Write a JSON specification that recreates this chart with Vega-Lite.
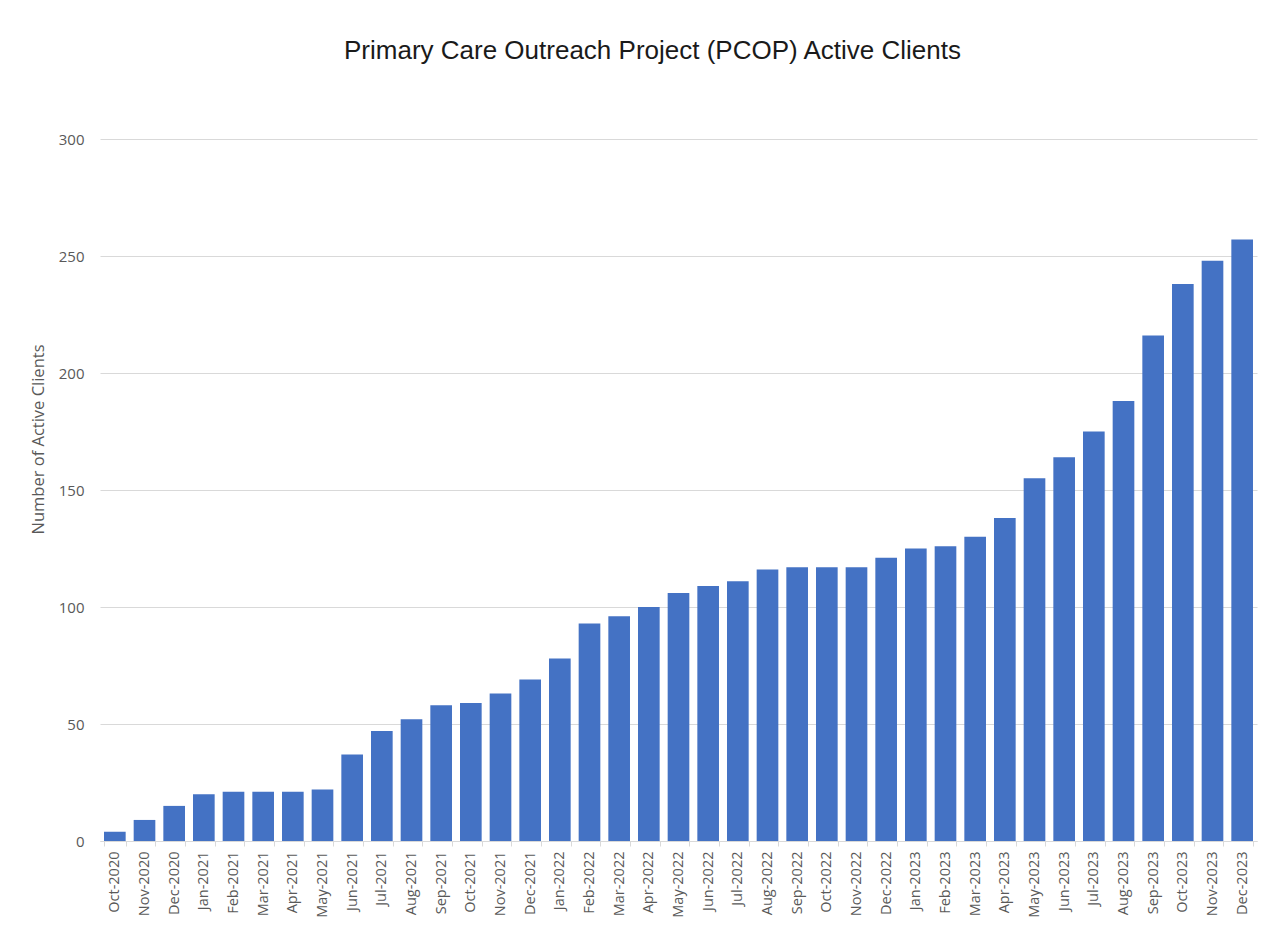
{
  "$schema": "https://vega.github.io/schema/vega-lite/v6.json",
  "width": 1157,
  "height": 702,
  "autosize": {"type": "none"},
  "padding": {"left": 100, "top": 139, "right": 9, "bottom": 85},
  "background": "white",
  "title": {
    "text": "Primary Care Outreach Project (PCOP) Active Clients",
    "font": "Liberation Sans",
    "fontSize": 26,
    "fontWeight": "normal",
    "color": "#1a1a1a",
    "anchor": "middle",
    "offset": 68,
    "dx": -26
  },
  "data": {
    "values": [
      {"month": "Oct-2020", "clients": 4},
      {"month": "Nov-2020", "clients": 9},
      {"month": "Dec-2020", "clients": 15},
      {"month": "Jan-2021", "clients": 20},
      {"month": "Feb-2021", "clients": 21},
      {"month": "Mar-2021", "clients": 21},
      {"month": "Apr-2021", "clients": 21},
      {"month": "May-2021", "clients": 22},
      {"month": "Jun-2021", "clients": 37},
      {"month": "Jul-2021", "clients": 47},
      {"month": "Aug-2021", "clients": 52},
      {"month": "Sep-2021", "clients": 58},
      {"month": "Oct-2021", "clients": 59},
      {"month": "Nov-2021", "clients": 63},
      {"month": "Dec-2021", "clients": 69},
      {"month": "Jan-2022", "clients": 78},
      {"month": "Feb-2022", "clients": 93},
      {"month": "Mar-2022", "clients": 96},
      {"month": "Apr-2022", "clients": 100},
      {"month": "May-2022", "clients": 106},
      {"month": "Jun-2022", "clients": 109},
      {"month": "Jul-2022", "clients": 111},
      {"month": "Aug-2022", "clients": 116},
      {"month": "Sep-2022", "clients": 117},
      {"month": "Oct-2022", "clients": 117},
      {"month": "Nov-2022", "clients": 117},
      {"month": "Dec-2022", "clients": 121},
      {"month": "Jan-2023", "clients": 125},
      {"month": "Feb-2023", "clients": 126},
      {"month": "Mar-2023", "clients": 130},
      {"month": "Apr-2023", "clients": 138},
      {"month": "May-2023", "clients": 155},
      {"month": "Jun-2023", "clients": 164},
      {"month": "Jul-2023", "clients": 175},
      {"month": "Aug-2023", "clients": 188},
      {"month": "Sep-2023", "clients": 216},
      {"month": "Oct-2023", "clients": 238},
      {"month": "Nov-2023", "clients": 248},
      {"month": "Dec-2023", "clients": 257}
    ]
  },
  "mark": {"type": "bar", "color": "#4472C4"},
  "encoding": {
    "x": {
      "field": "month",
      "type": "nominal",
      "sort": null,
      "scale": {"paddingInner": 0.27, "paddingOuter": 0.135},
      "axis": {
        "title": null,
        "labelAngle": -90,
        "labelFont": "Open Sans",
        "labelFontSize": 14.5,
        "labelColor": "#595959",
        "labelPadding": 5,
        "domainColor": "#d9d9d9",
        "domainWidth": 1,
        "ticks": true,
        "tickBand": "extent",
        "tickColor": "#d9d9d9",
        "tickSize": 5,
        "grid": false
      }
    },
    "y": {
      "field": "clients",
      "type": "quantitative",
      "scale": {"domain": [0, 300], "nice": false},
      "axis": {
        "title": "Number of Active Clients",
        "titleFont": "Open Sans",
        "titleFontSize": 16.5,
        "titleFontWeight": "normal",
        "titleColor": "#595959",
        "titlePadding": 12,
        "titleY": 300,
        "values": [0, 50, 100, 150, 200, 250, 300],
        "labelFont": "Open Sans",
        "labelFontSize": 15,
        "labelColor": "#595959",
        "labelPadding": 16,
        "domain": false,
        "ticks": false,
        "grid": true,
        "gridColor": "#d9d9d9",
        "gridWidth": 1
      }
    }
  },
  "config": {
    "view": {"stroke": null}
  }
}
